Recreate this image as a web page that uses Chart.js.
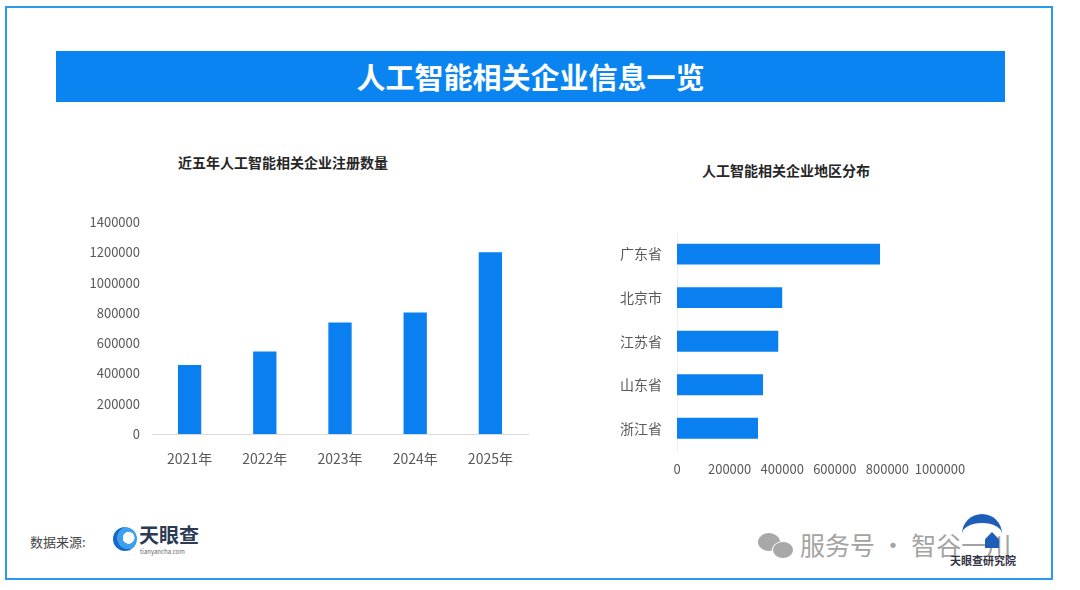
<!DOCTYPE html>
<html><head><meta charset="utf-8">
<script src="https://cdn.jsdelivr.net/npm/chart.js@4"></script>
<style>
html,body{margin:0;padding:0;background:#fff;}
body{width:1080px;height:590px;position:relative;overflow:hidden;font-family:"Noto Sans CJK SC","Noto Sans",sans-serif;}
.frame{position:absolute;left:5px;top:6px;width:1044px;height:570px;border:2px solid #2a9af0;box-sizing:content-box;}
.banner{position:absolute;left:56px;top:51px;width:949px;height:51px;background:#0a84f1;color:#fff;font-weight:bold;font-size:29px;line-height:51px;text-align:center;letter-spacing:0px;}
.ctitle{position:absolute;font-weight:bold;font-size:14px;color:#262626;}
.src{position:absolute;left:30px;top:532px;font-size:13px;color:#444;}
.logo{position:absolute;left:113px;top:527px;width:24px;height:24px;border-radius:50%;background:radial-gradient(circle at 65% 45%,#fff 0 28%,#3aa0ef 30% 55%,#1569c7 57%);}
.logotext{position:absolute;left:139px;top:523px;font-size:20px;font-weight:bold;color:#2b3a55;line-height:24px;}
.logosub{position:absolute;left:140px;top:547px;font-size:6px;color:#666;}
.wm{position:absolute;left:800px;top:529px;font-size:25px;color:#a3a3a3;line-height:30px;}
.wc1{position:absolute;left:758px;top:533px;width:22px;height:18px;border-radius:50%;background:#a8a8a8;}
.wc2{position:absolute;left:772px;top:541px;width:20px;height:16px;border-radius:50%;background:#a8a8a8;border:1px solid #fff;}
.tlogo{position:absolute;left:962px;top:514px;width:40px;height:40px;border-radius:50% 50% 0 0;border-top:9px solid #1d5fb8;box-sizing:border-box;}
.tlogo2{position:absolute;left:985px;top:532px;width:14px;height:16px;background:#1d5fb8;clip-path:polygon(50% 0,100% 45%,100% 100%,0 100%,0 45%);}
.tlogotext{position:absolute;left:950px;top:552px;font-size:11px;font-weight:bold;color:#334;}
</style></head><body>
<div class="frame"></div>
<div class="banner">人工智能相关企业信息一览</div>
<div class="ctitle" style="left:178px;top:152px;">近五年人工智能相关企业注册数量</div>
<div class="ctitle" style="left:702px;top:160px;">人工智能相关企业地区分布</div>
<div style="position:absolute;left:80px;top:200px;width:460px;height:280px;"><canvas id="c1"></canvas></div>
<div style="position:absolute;left:590px;top:209px;width:400px;height:281px;"><canvas id="c2"></canvas></div>
<div class="src">数据来源:</div>
<div class="logo"></div>
<div class="logotext">天眼查</div>
<div class="logosub">tianyancha.com</div>
<div class="wc1"></div><div class="wc2"></div>
<div class="wm">服务号 · 智谷一川</div>
<div class="tlogo"></div><div class="tlogo2"></div>
<div class="tlogotext">天眼查研究院</div>
<script>
const years = ["2021年","2022年","2023年","2024年","2025年"];
const yearCounts = [455000, 545000, 737000, 803000, 1200000];
const regions = ["广东省","北京市","江苏省","山东省","浙江省"];
const regionCounts = [772000, 400000, 385000, 327000, 308000];
const barColor = "#0a80f0";
const tickFont = {family:"'Noto Sans CJK SC','Noto Sans',sans-serif", size:13};
const tickColor = "#595959";
const plain = (v)=>String(v);

new Chart(document.getElementById('c1'), {
  type:'bar',
  data:{labels:years, datasets:[{data:yearCounts, backgroundColor:barColor, barPercentage:0.31, categoryPercentage:1}]},
  options:{
    responsive:true, maintainAspectRatio:false, animation:false,
    layout:{padding:{top:22,right:12,left:0,bottom:0}},
    plugins:{legend:{display:false}, tooltip:{enabled:false}},
    scales:{
      x:{grid:{display:false,drawTicks:false}, border:{display:true,color:'#d9d9d9'},
         ticks:{color:tickColor,font:{...tickFont,size:14},padding:16},
         afterFit:(s)=>{s.height=46;}},
      y:{min:0,max:1400000,grid:{display:false,drawTicks:false},border:{display:false},
         ticks:{stepSize:200000,color:tickColor,font:tickFont,padding:12,callback:plain},
         afterFit:(s)=>{s.width=72;}}
    }
  }
});

new Chart(document.getElementById('c2'), {
  type:'bar',
  data:{labels:regions, datasets:[{data:regionCounts, backgroundColor:barColor, barPercentage:0.48, categoryPercentage:1}]},
  options:{
    indexAxis:'y',
    responsive:true, maintainAspectRatio:false, animation:false,
    layout:{padding:{top:12,right:50,left:0,bottom:0}},
    plugins:{legend:{display:false}, tooltip:{enabled:false}},
    scales:{
      x:{min:0,max:1000000,grid:{display:false,drawTicks:false},border:{display:false},
         ticks:{stepSize:200000,color:tickColor,font:tickFont,padding:11,maxRotation:0,autoSkip:false,callback:plain},
         afterFit:(s)=>{s.height=40;}},
      y:{grid:{display:false,drawTicks:false},border:{display:true,color:'#eeeeee'},
         ticks:{color:tickColor,font:{...tickFont,size:14},padding:15},
         afterFit:(s)=>{s.width=87;}}
    }
  }
});
</script>
</body></html>
